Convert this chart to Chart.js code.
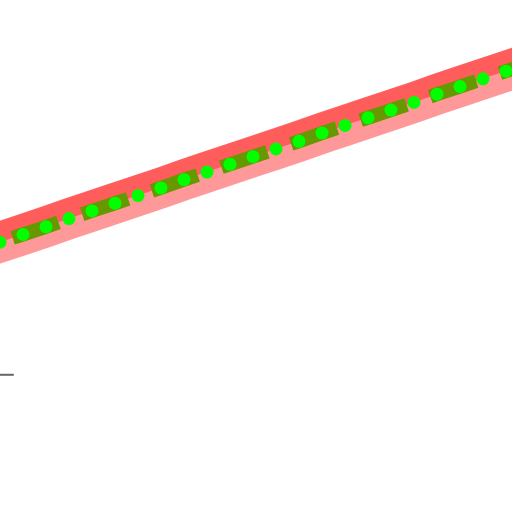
<!DOCTYPE html>
<html>
<head>
<meta charset="utf-8">
<script src="https://cdn.jsdelivr.net/npm/chart.js@4/dist/chart.umd.min.js"></script>
<style>
  html, body { margin: 0; padding: 0; background: #fff; }
  #wrap { width: 512px; height: 512px; }
</style>
</head>
<body>
<div id="wrap"><canvas id="lineChart"></canvas></div>
<script>
// x positions (one step per marker), -1 and 23 run past the edges
const steps = [-1, 0, 1, 2, 3, 4, 5, 6, 7, 8, 9, 10, 11, 12, 13, 14, 15, 16, 17, 18, 19, 20, 21, 22, 23];
const mainValues = [51.2, 52.7, 54.2, 55.7, 57.3, 58.8, 60.3, 61.8, 63.3, 64.9, 66.4, 67.9, 69.4,
    70.9, 72.4, 74.0, 75.5, 77.0, 78.5, 80.0, 81.6, 83.1, 84.6, 86.1, 87.6];
const upperValues = [53.3, 54.8, 56.3, 57.8, 59.4, 60.9, 62.4, 63.9, 65.4, 67.0, 68.5, 70.0, 71.5,
    73.0, 74.5, 76.1, 77.6, 79.1, 80.6, 82.1, 83.7, 85.2, 86.7, 88.2, 89.7];
const tickX = [0, 0.6];
const tickY = [26.8, 26.8];

const toPoints = (xs, ys) => xs.map((x, i) => ({ x: x, y: ys[i] }));

const ctx = document.getElementById('lineChart').getContext('2d');
new Chart(ctx, {
    type: 'line',
    data: {
        datasets: [{
            label: 'dots',
            data: toPoints(steps, mainValues),
            borderColor: '#669900',
            borderWidth: 14,
            borderDash: [48.5, 25],
            borderDashOffset: 36,
            pointRadius: 6.5,
            pointBackgroundColor: '#00ff00',
            pointBorderWidth: 0,
            tension: 0,
            clip: false
        }, {
            label: 'upper',
            data: toPoints(steps, upperValues),
            borderColor: 'rgba(255, 0, 0, 0.4)',
            borderWidth: 20,
            pointRadius: 0,
            tension: 0,
            clip: false
        }, {
            label: 'band',
            data: toPoints(steps, mainValues),
            borderColor: 'rgba(255, 0, 0, 0.4)',
            borderWidth: 41,
            pointRadius: 0,
            tension: 0,
            clip: false
        }, {
            label: 'tick',
            data: toPoints(tickX, tickY),
            borderColor: '#666666',
            borderWidth: 2,
            pointRadius: 0,
            clip: false
        }]
    },
    options: {
        responsive: true,
        maintainAspectRatio: false,
        animation: false,
        layout: { padding: 0, autoPadding: false },
        scales: {
            x: { type: 'linear', min: 0, max: 22.26, display: false },
            y: { type: 'linear', min: 0, max: 100, display: false }
        },
        plugins: {
            legend: { display: false },
            tooltip: { enabled: false }
        }
    }
});
</script>
</body>
</html>
